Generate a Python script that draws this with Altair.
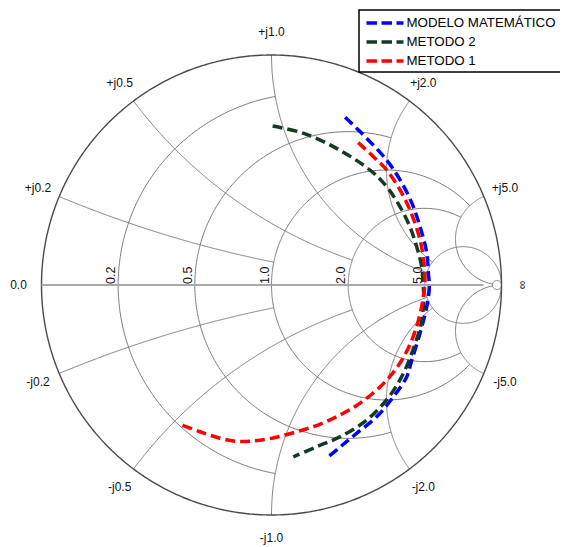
import altair as alt
import numpy as np
import pandas as pd

series_names = ["MODELO MATEMÁTICO", "METODO 2", "METODO 1"]
series_colors = ["#0000ff", "#143a22", "#ff0000"]

modelo_re = [0.320, 0.385, 0.501, 0.559, 0.610, 0.646, 0.675, 0.682, 0.686, 0.675, 0.646, 0.610, 0.588, 0.530, 0.457, 0.370, 0.305, 0.240]
modelo_im = [0.729, 0.667, 0.543, 0.457, 0.357, 0.253, 0.139, 0.052, -0.009, -0.094, -0.209, -0.326, -0.399, -0.486, -0.573, -0.645, -0.699, -0.753]

metodo2_re = [0.005, 0.138, 0.283, 0.428, 0.501, 0.559, 0.602, 0.631, 0.653, 0.660, 0.662, 0.652, 0.620, 0.573, 0.508, 0.414, 0.298, 0.197, 0.095]
metodo2_im = [0.691, 0.660, 0.594, 0.500, 0.427, 0.340, 0.253, 0.167, 0.080, -0.007, -0.060, -0.161, -0.268, -0.385, -0.490, -0.587, -0.660, -0.703, -0.747]

metodo1_re = [0.377, 0.443, 0.501, 0.559, 0.602, 0.638, 0.660, 0.667, 0.660, 0.653, 0.631, 0.595, 0.550, 0.498, 0.437, 0.367, 0.289, 0.202, 0.107, 0.007, -0.080, -0.150, -0.224, -0.311, -0.390]
metodo1_im = [0.619, 0.558, 0.500, 0.413, 0.326, 0.225, 0.123, 0.007, -0.051, -0.094, -0.181, -0.274, -0.352, -0.417, -0.474, -0.526, -0.570, -0.609, -0.639, -0.665, -0.678, -0.680, -0.666, -0.638, -0.609]

# ---- Smith chart grid values ----
r_circles = [0.2, 0.5, 1.0, 2.0, 5.0, 50.0]
r_limits = [1.0, 2.0, 5.0, 5.0, None, None]      # |x| where each r circle stops
x_arcs = [0.2, 0.5, 1.0, 2.0, 5.0]
x_limits = [1.0, 2.0, 5.0, 5.0, 50.0]           # r where each x arc stops
r_label_values = [0.2, 0.5, 1.0, 2.0, 5.0]
r_label_texts = ["0.2", "0.5", "1.0", "2.0", "5.0"]
x_label_values = [0.2, 0.5, 1.0, 2.0, 5.0]
x_label_texts = ["0.2", "0.5", "1.0", "2.0", "5.0"]

FONT = "Liberation Sans"


def gam(z):
    return (z - 1) / (z + 1)


rows = []
gid = 0
for r, lim in zip(r_circles, r_limits):
    if lim is None:
        t = np.linspace(0, 2 * np.pi, 361)
        pts = r / (1 + r) + (1 / (1 + r)) * np.exp(1j * t)
    else:
        phi = np.linspace(-np.arctan(lim), np.arctan(lim), 301)
        pts = gam(r + 1j * np.tan(phi))
    for k, p in enumerate(pts):
        rows.append({"u": p.real, "v": p.imag, "id": gid, "k": k})
    gid += 1
for xv, lim in zip(x_arcs, x_limits):
    for s in (1, -1):
        psi = np.linspace(0, np.arctan(lim), 301)
        pts = gam(np.tan(psi) + 1j * s * xv)
        for k, p in enumerate(pts):
            rows.append({"u": p.real, "v": p.imag, "id": gid, "k": k})
        gid += 1
grid_df = pd.DataFrame(rows)

t = np.linspace(0, 2 * np.pi, 721)
outer_df = pd.DataFrame({"u": np.cos(t), "v": np.sin(t), "k": np.arange(len(t))})

axis_df = pd.DataFrame({"u": [-1.0], "u2": [gam(50.0).real - 2 / 51], "v": [0.0]})

curve_rows = []
for name, re, im in zip(series_names,
                        [modelo_re, metodo2_re, metodo1_re],
                        [modelo_im, metodo2_im, metodo1_im]):
    for k, (a, b) in enumerate(zip(re, im)):
        curve_rows.append({"series": name, "u": a, "v": b, "k": k})
curve_df = pd.DataFrame(curve_rows)

rlab_df = pd.DataFrame({"u": [(r - 1) / (r + 1) for r in r_label_values],
                        "v": [0.0] * len(r_label_values),
                        "text": r_label_texts})

xl = []
for xv, txt in zip(x_label_values, x_label_texts):
    g = gam(1j * xv)
    xl.append({"u": 1.1 * g.real, "v": 1.1 * g.imag, "text": "+j" + txt})
    xl.append({"u": 1.1 * g.real, "v": -1.1 * g.imag, "text": "-j" + txt})
xl.append({"u": -1.1, "v": 0.0, "text": "0.0"})
xlab_df = pd.DataFrame(xl)
inf_df = pd.DataFrame({"u": [1.094], "v": [0.0], "text": ["∞"]})

xs = alt.Scale(domain=[-1, 1], nice=False, zero=False)
ys = alt.Scale(domain=[-1, 1], nice=False, zero=False)
X = alt.X("u:Q", scale=xs, axis=None)
Y = alt.Y("v:Q", scale=ys, axis=None)
color_scale = alt.Scale(domain=series_names, range=series_colors)

grid = alt.Chart(grid_df).mark_line(stroke="#7a7a7a", strokeWidth=1).encode(
    x=X, y=Y, detail="id:N", order="k:Q")
outer = alt.Chart(outer_df).mark_line(stroke="#4a4a4a", strokeWidth=1.4).encode(
    x=X, y=Y, order="k:Q")
axis = alt.Chart(axis_df).mark_rule(stroke="#a8a8a8", strokeWidth=2).encode(
    x=X, x2="u2:Q", y=Y)

curves = alt.Chart(curve_df).mark_line(
    strokeWidth=3.5, strokeDash=[10, 5], interpolate="catmull-rom"
).encode(
    x=X, y=Y, order="k:Q",
    color=alt.Color("series:N", scale=color_scale, legend=None),
)

rlabels = alt.Chart(rlab_df).mark_text(
    angle=270, align="left", baseline="bottom", fontSize=12.5, font=FONT,
    color="#111", dx=1
).encode(x=X, y=Y, text="text:N")

xlabels = alt.Chart(xlab_df).mark_text(
    align="center", baseline="middle", fontSize=12, font=FONT, color="#111"
).encode(x=X, y=Y, text="text:N")

inflabel = alt.Chart(inf_df).mark_text(
    angle=90, align="center", baseline="middle", fontSize=12, font=FONT, color="#111"
).encode(x=X, y=Y, text="text:N")

# ---- legend (drawn by hand, boxed, top right) ----
leg_top, leg_step = -32, 19
legend_df = pd.DataFrame({"series": series_names,
                          "ly": [leg_top + i * leg_step for i in range(len(series_names))]})
LY = alt.Y("ly:Q", scale=None, axis=None)
legend_box = alt.Chart(pd.DataFrame({"a": [0]})).mark_rect(
    fill="white", stroke="black", strokeWidth=1.5
).encode(x=alt.value(317.5), x2=alt.value(540), y=alt.value(-45), y2=alt.value(17))
legend_lines = alt.Chart(legend_df).mark_rule(
    strokeWidth=3.5, strokeDash=[10.5, 4.5]
).encode(x=alt.value(325), x2=alt.value(362), y=LY,
         color=alt.Color("series:N", scale=color_scale, legend=None))
legend_text = alt.Chart(legend_df).mark_text(
    align="left", baseline="middle", fontSize=13.3, font=FONT, color="black"
).encode(x=alt.value(365), y=LY, text="series:N")

chart = alt.layer(
    grid, outer, axis, rlabels, xlabels, inflabel, curves,
    legend_box, legend_lines, legend_text
).properties(
    width=460, height=460,
    padding={"left": 33.5, "top": 47, "right": 58.5, "bottom": 32},
    autosize="none",
).configure_view(stroke=None)

chart.save("out.html", embed_options={"renderer": "svg", "actions": False})
